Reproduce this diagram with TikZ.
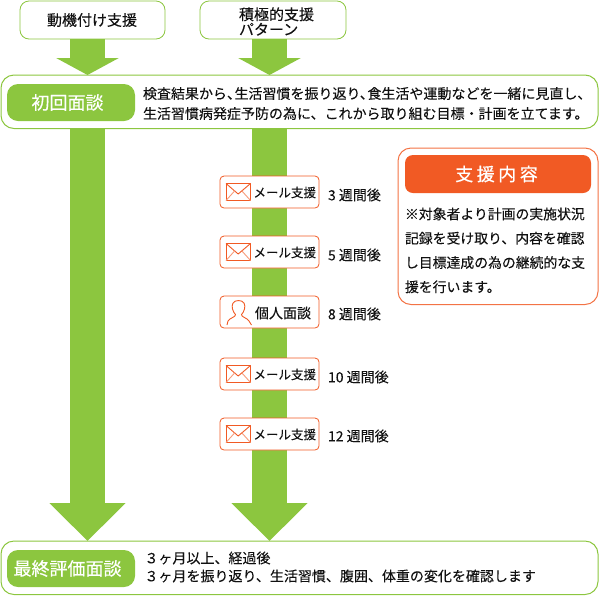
\documentclass[tikz,border=0pt]{standalone}
\usepackage{fontspec}
\setmainfont[FakeBold=0.12]{Noto Sans CJK JP}
\usetikzlibrary{arrows.meta}
\definecolor{leaf}{HTML}{8CC63F}
\definecolor{tang}{HTML}{F15A24}
\definecolor{ink}{HTML}{111111}
\newcommand{\fs}[2]{\fontsize{#1}{#2}\selectfont}
\newcommand{\hc}{\kern-6.5pt }
\tikzset{
  x=1pt,y=-1pt,
  every node/.style={inner sep=0pt,outer sep=0pt,text=ink},
  topbox/.style={draw=leaf,line width=.8pt,fill=white,rounded corners=9pt,minimum height=38pt},
  wideline/.style={draw=leaf,line width=1pt,rounded corners=13pt},
  pill/.style={fill=leaf,rounded corners=11pt,minimum width=128pt,minimum height=37pt,text=white},
  sup/.style={draw=tang,line width=.8pt,fill=white,rounded corners=4pt,minimum width=99pt,minimum height=32pt},
  stepname/.style={font=\fs{12.5}{14},anchor=west},
  wk/.style={font=\fs{14}{15},anchor=west},
  bigar/.style={line width=35pt,draw=leaf},
  icon/.style={draw=tang,line width=.9pt,line join=round},
}
\begin{document}
\begin{tikzpicture}
\useasboundingbox (0,0) rectangle (599,595);
% boxes
\node[topbox,minimum width=145pt] (motive) at (92.5,20) {};
\node[topbox,minimum width=146pt] (active) at (273,20) {};
% connectors
\coordinate (m1) at (87.5,39);
\coordinate (m2) at (87.5,75);
\coordinate (a1) at (269.5,39);
\coordinate (a2) at (269.5,75);
\coordinate (f1) at (87.5,128);
\coordinate (f2) at (87.5,541);
\coordinate (g1) at (269.5,128);
\coordinate (g2) at (269.5,541);
\draw[bigar,-{Triangle[length=17pt,width=62pt]}] (m1) -- (m2);
\draw[bigar,-{Triangle[length=17pt,width=62pt]}] (a1) -- (a2);
\draw[bigar,-{Triangle[length=38pt,width=74pt]}] (f1) -- (f2);
\draw[bigar,-{Triangle[length=38pt,width=74pt]}] (g1) -- (g2);
% wide frames
\draw[wideline] (1,75) rectangle (598,128.5);
\draw[wideline] (1,541) rectangle (598,594.5);
% top texts
\node[font=\fs{15}{16}] (t1) at (92,20) {動機付け支援};
\node[font=\fs{15}{15},align=left,anchor=west] (t2) at (239,21.5) {積極的支援\\パターン};
% first interview
\node[pill] (p1) at (71,102.5) {\fs{18}{20}\addfontfeature{FakeBold=0.4}初回面談\kern7pt};
\node[anchor=west,align=left,font=\fs{14}{20}] (ft) at (143,103.5) {検査結果から、\hc 生活習慣を振り返り、\hc 食生活や運動などを一緒に見直し、\\生活習慣病発症予防の為に、これから取り組む目標・計画を立てます。};
% final interview
\node[pill] (p2) at (71,568.5) {\fs{18}{20}\addfontfeature{FakeBold=0.4}最終評価面談\kern7pt};
\node[anchor=west,align=left,font=\fs{14}{18}] (lt) at (144.5,567) {３ヶ月以上、経過後\\３ヶ月を振り返り、生活習慣、腹囲、体重の変化を確認します};
% support steps
\node[sup] (s1) at (269.5,192) {};
\node[sup] (s2) at (269.5,252) {};
\node[sup] (s3) at (269.5,312) {};
\node[sup] (s4) at (269.5,374) {};
\node[sup] (s5) at (269.5,434) {};
\foreach \n/\y in {s1/192,s2/252,s4/374,s5/434}{
  \draw[icon,fill=white] (226,\y-8.5) rectangle (250.5,\y+8.5);
  \draw[icon] (226,\y-8.5) -- (238.2,\y+2) -- (250.5,\y-8.5);
  \draw[icon,draw=tang!60] (226,\y+8.5) -- (235,\y-1.5) (250.5,\y+8.5) -- (241.5,\y-1.5);
}
\node[stepname] (n1) at (253.5,192.5) {メール支援};
\node[stepname] (n2) at (253.5,252.5) {メール支援};
\node[stepname,font=\fs{14}{15}] (n3) at (255,313) {個人面談};
\node[stepname] (n4) at (253.5,374.5) {メール支援};
\node[stepname] (n5) at (253.5,434.5) {メール支援};
% person icon
\draw[icon,fill=white] (238.5,300.5) .. controls (232.5,300.5) and (231.5,305) .. (232.5,309) .. controls (233.1,311.5) and (234.5,313.5) .. (235.5,314.5) .. controls (236,317) and (229.5,318) .. (228,321) .. controls (227.3,322.5) and (227.1,323.5) .. (227,325)
  (238.5,300.5) .. controls (244.5,300.5) and (245.5,305) .. (244.5,309) .. controls (243.9,311.5) and (242.5,313.5) .. (241.5,314.5) .. controls (241,317) and (247.5,318) .. (249,321) .. controls (249.7,322.5) and (251,323.5) .. (251.5,325);
\node[wk] (w1) at (328,195) {3 週間後};
\node[wk] (w2) at (328,255) {5 週間後};
\node[wk] (w3) at (328,314) {8 週間後};
\node[wk] (w4) at (328,377) {10 週間後};
\node[wk] (w5) at (328,436) {12 週間後};
% support panel
\draw[tang!85!white,line width=1pt,fill=white,rounded corners=13pt] (398,148) rectangle (598,304.5);
\node[fill=tang,rounded corners=8pt,minimum width=186pt,minimum height=38pt,text=white] (hd) at (498,174) {\fs{18}{20}\addfontfeature{FakeBold=0.4}支\kern3.5pt 援\kern3.5pt 内\kern3.5pt 容\kern3pt};
\node[anchor=north west,align=left,font=\fs{13.85}{24.3}] (body) at (405,207.5) {※対象者より計画の実施状況\\記録を受け取り、内容を確認\\し目標達成の為の継続的な支\\援を行います。};
\end{tikzpicture}
\end{document}
